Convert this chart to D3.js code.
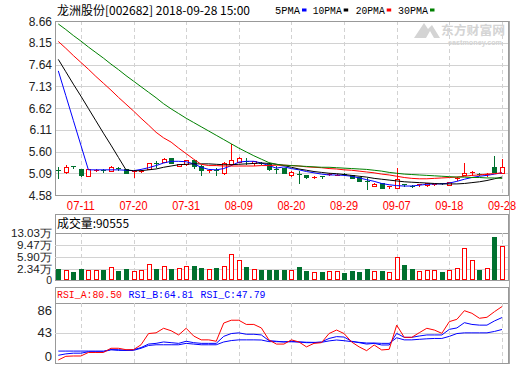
<!DOCTYPE html>
<html><head><meta charset="utf-8">
<script src="https://cdn.jsdelivr.net/npm/d3@7/dist/d3.min.js"></script>
<style>html,body{margin:0;padding:0;background:#fff;}svg{display:block;}</style>
</head><body>
<svg id="c" width="520" height="365"></svg>
<script>
const dates = ["07-06","07-09","07-10","07-11","07-12","07-13","07-16","07-17","07-18","07-19","07-20","07-23","07-24","07-25","07-26","07-27","07-30","07-31","08-01","08-02","08-03","08-06","08-07","08-08","08-09","08-10","08-13","08-14","08-15","08-16","08-17","08-20","08-21","08-22","08-23","08-24","08-27","08-28","08-29","08-30","08-31","09-03","09-04","09-05","09-06","09-07","09-10","09-11","09-12","09-13","09-14","09-17","09-18","09-19","09-20","09-21","09-25","09-26","09-27","09-28"];
const openP  = [5.17,5.12,5.25,5.19,5.02,5.16,5.17,5.14,5.21,5.19,5.12,5.14,5.19,5.32,5.36,5.44,5.25,5.30,5.40,5.27,5.15,5.16,5.09,5.30,5.36,5.38,5.33,5.34,5.31,5.18,5.21,5.06,5.08,5.06,5.00,5.02,5.06,5.05,5.08,5.06,5.00,4.91,4.79,4.85,4.77,4.75,4.83,4.80,4.82,4.81,4.82,4.86,4.82,4.96,5.06,5.10,5.08,5.06,5.23,5.10];
const closeP = [5.16,5.24,5.24,5.06,5.18,5.17,5.16,5.24,5.20,5.10,5.15,5.15,5.33,5.31,5.43,5.33,5.31,5.39,5.27,5.17,5.16,5.15,5.34,5.40,5.44,5.37,5.38,5.32,5.18,5.17,5.10,5.12,5.07,5.00,5.01,5.01,5.07,5.06,5.07,4.98,4.92,4.90,4.84,4.75,4.78,4.96,4.82,4.79,4.83,4.86,4.83,4.85,4.88,4.99,5.10,5.11,5.07,5.07,5.12,5.24];
const highP  = [5.23,5.28,5.27,5.20,5.18,5.18,5.20,5.25,5.23,5.19,5.15,5.17,5.34,5.37,5.45,5.44,5.31,5.40,5.41,5.28,5.20,5.22,5.36,5.78,5.48,5.45,5.38,5.36,5.31,5.25,5.21,5.14,5.15,5.06,5.03,5.03,5.09,5.08,5.09,5.06,5.00,4.98,4.85,4.86,4.80,5.22,4.84,4.82,4.84,4.87,4.84,4.87,4.89,5.01,5.32,5.15,5.09,5.10,5.49,5.43];
const lowP   = [4.98,5.10,5.21,5.02,5.02,5.15,5.13,5.14,5.17,5.09,5.00,5.12,5.18,5.24,5.35,5.33,5.25,5.29,5.22,5.06,5.11,5.06,5.08,5.29,5.35,5.31,5.29,5.30,5.17,5.10,5.09,5.03,4.87,4.99,4.98,4.99,5.04,5.04,5.05,4.98,4.91,4.72,4.78,4.74,4.75,4.74,4.80,4.76,4.80,4.80,4.81,4.83,4.82,4.94,5.06,5.06,5.05,5.03,5.12,5.10];
const ma5  = [7.49,6.91,6.33,5.75,5.17,5.17,5.17,5.17,5.17,5.16,5.15,5.18,5.22,5.27,5.33,5.37,5.37,5.36,5.31,5.23,5.18,5.17,5.20,5.27,5.35,5.37,5.37,5.33,5.27,5.21,5.24,5.20,5.17,5.13,5.10,5.07,5.05,5.05,5.04,5.02,4.98,4.94,4.90,4.85,4.82,4.80,4.79,4.79,4.81,4.83,4.84,4.84,4.86,4.90,4.95,4.99,5.02,5.04,5.07,5.10];
const ma10 = [7.76,7.47,7.18,6.90,6.61,6.32,6.03,5.75,5.46,5.17,5.15,5.15,5.17,5.19,5.23,5.26,5.29,5.30,5.31,5.31,5.31,5.30,5.29,5.29,5.30,5.31,5.32,5.33,5.32,5.30,5.27,5.23,5.19,5.16,5.13,5.11,5.09,5.08,5.06,5.04,5.02,5.00,4.97,4.95,4.93,4.91,4.89,4.88,4.87,4.86,4.85,4.84,4.84,4.84,4.85,4.87,4.89,4.92,4.96,5.00];
const ma20 = [8.18,8.02,7.85,7.69,7.53,7.36,7.20,7.04,6.87,6.71,6.55,6.38,6.22,6.05,5.92,5.82,5.68,5.55,5.42,5.30,5.27,5.27,5.26,5.26,5.26,5.26,5.26,5.27,5.27,5.28,5.28,5.27,5.26,5.24,5.23,5.22,5.20,5.19,5.17,5.16,5.14,5.12,5.10,5.07,5.05,5.02,4.99,4.97,4.96,4.96,4.97,4.98,4.99,5.00,5.02,5.04,5.05,5.07,5.08,5.10];
const ma30 = [8.59,8.46,8.32,8.19,8.05,7.92,7.79,7.65,7.52,7.38,7.25,7.12,6.99,6.86,6.72,6.60,6.49,6.38,6.28,6.18,6.08,5.98,5.88,5.78,5.68,5.59,5.50,5.42,5.34,5.30,5.28,5.27,5.26,5.25,5.24,5.23,5.23,5.22,5.21,5.20,5.19,5.18,5.16,5.14,5.11,5.09,5.07,5.06,5.05,5.04,5.03,5.02,5.01,5.00,5.00,4.99,4.99,4.98,4.98,4.97];
const volume = [2.42,2.13,1.55,2.42,2.13,2.13,2.13,2.92,1.84,2.42,1.84,2.13,3.80,2.42,3.21,2.42,2.63,3.21,3.39,2.72,2.34,2.72,3.30,6.80,5.05,3.01,2.42,2.13,2.13,2.13,2.13,2.13,3.01,1.84,1.55,1.55,1.84,1.84,1.26,1.84,1.55,2.42,1.84,1.84,1.55,5.84,3.59,2.42,1.84,2.13,2.13,1.55,2.13,2.63,8.47,5.05,2.13,2.63,11.77,9.0555];
const rsiA = [4.3,9.5,10,10,15,15,15,21,21,19,19,26,42,43,49.5,46,40,49.5,38.5,33,33,31,57,61,61,55,55,50,33,27,27,33,30,23,28,29,42,47,42,30,23,17.6,25.7,18.6,19.5,54,36.6,36.6,43.2,49.5,47,42.3,59,62.3,74.6,70.9,63.8,65.2,73.2,80.5];
const rsiB = [11,13,14,14,16,16,16,19,19,18,19,22,27,28,30,29,28,31,29,28,28,28,38,42,43,41,41,40,32,31,30,31,30,29,29,30,35,37.6,37,31,29,27,28,25.7,25.7,42.3,36.6,36.6,38.5,40,40,40,48,50,57.5,55,54,54,60,64.81];
const rsiC = [17,17,17,17,17,17,17,19,18,18,18,21,25,26,26,26,26,28,27,26,26,26,30,32,33,33,33,32.8,30.5,30.4,30.2,30.2,30,29.6,29.4,29.5,31.5,32.8,31.8,30.5,29.5,28.5,28.5,28,28,36,33,33,33.8,34.5,35,35,38,42,43,43,43,43,45,47.79];
const priceTicks = [8.66,8.15,7.64,7.13,6.62,6.11,5.60,5.09,4.58];
const priceLabels = ["8.66","8.15","7.64","7.13","6.62","6.11","5.60","5.09","4.58"];
const volTicks = [13.03,9.47,5.90,2.34,0];
const volLabels = ["13.03万","9.47万","5.90万","2.34万","0"];
const rsiTicks = [86,43,0];
const xTicks = ["07-11","07-20","07-31","08-09","08-20","08-29","09-07","09-18","09-28"];
const maNames = ["5PMA","10PMA","20PMA","30PMA"];
const maColors = ["#0000ff","#000000","#ff0000","#008000"];

const RED = "#ff0000", GREEN = "#00702e", GRID = "#d2d2d2", FRAME = "#999";
const svg = d3.select("#c");
const L = 55, R = 508;
const x = d3.scalePoint().domain(dates).range([58.3, 502]);
const yP = d3.scaleLinear().domain([4.58, 8.66]).range([195, 21]);
const yV = d3.scaleLinear().domain([-0.79, 13.03]).range([280, 232.7]);
const yR = d3.scaleLinear().domain([0, 86]).range([363, 302.7]);
const px = v => Math.round(v) + 0.5;

// ---------- header ----------
svg.append("text").attr("x", 57).attr("y", 14.5).attr("font-family", "Noto Sans CJK SC, sans-serif")
  .attr("font-size", 12).attr("fill", "#000").attr("textLength", 193).attr("lengthAdjust", "spacingAndGlyphs")
  .text("龙洲股份[002682] 2018-09-28 15:00");
const legX = [275, 312.7, 355.7, 398];
const legW = [25, 29, 29, 30];
maNames.forEach((n, i) => {
  svg.append("text").attr("x", legX[i]).attr("y", 13.5).attr("font-family", "Liberation Mono, monospace")
    .attr("font-size", 11).attr("fill", "#000").attr("textLength", legW[i]).attr("lengthAdjust", "spacingAndGlyphs").text(n);
  svg.append("rect").attr("x", legX[i] + legW[i] + 2).attr("y", 8.5).attr("width", 4.5).attr("height", 3).attr("fill", maColors[i]);
});

// ---------- frames & grids ----------
function frame(y0, y1) {
  svg.append("rect").attr("x", L + 0.5).attr("y", y0 + 0.5).attr("width", R - L).attr("height", y1 - y0)
    .attr("fill", "none").attr("stroke", FRAME);
}
function vgrid(y0, y1) {
  xTicks.forEach(t => {
    svg.append("line").attr("x1", px(x(t))).attr("x2", px(x(t))).attr("y1", y0).attr("y2", y1)
      .attr("stroke", GRID).attr("stroke-dasharray", "4,3");
  });
}
// main
priceTicks.forEach(v => svg.append("line").attr("x1", L).attr("x2", R).attr("y1", px(yP(v))).attr("y2", px(yP(v))).attr("stroke", GRID));
vgrid(21, 195);
frame(21, 195);
// volume
frame(214, 280);
volTicks.slice(1, 4).forEach(v => svg.append("line").attr("x1", L).attr("x2", R).attr("y1", px(yV(v))).attr("y2", px(yV(v))).attr("stroke", GRID));
svg.append("line").attr("x1", L).attr("x2", R).attr("y1", px(yV(13.03))).attr("y2", px(yV(13.03))).attr("stroke", FRAME);
vgrid(233, 280);
// rsi
frame(287, 363);
svg.append("line").attr("x1", L).attr("x2", R).attr("y1", px(yR(86))).attr("y2", px(yR(86))).attr("stroke", FRAME);
svg.append("line").attr("x1", L).attr("x2", R).attr("y1", px(yR(43))).attr("y2", px(yR(43))).attr("stroke", GRID);
vgrid(303, 363);
// darker right edge
svg.append("line").attr("x1", R + 1.5).attr("x2", R + 1.5).attr("y1", 21).attr("y2", 364).attr("stroke", "#aaa");

// ---------- watermark ----------
const wm = svg.append("g").attr("fill", "#d4d4d4");
wm.append("path").attr("d", "M414,38 L424,23 L428,29 L432,25 L440,38 L434,38 L430,31 L426,38 Z");
wm.append("text").attr("x", 441).attr("y", 35).attr("font-family", "Noto Sans CJK SC, sans-serif").attr("font-size", 12)
  .attr("font-weight", "bold").attr("textLength", 64).attr("lengthAdjust", "spacingAndGlyphs").text("东方财富网");
wm.append("text").attr("x", 448).attr("y", 45).attr("font-family", "Liberation Sans, sans-serif").attr("font-size", 7)
  .attr("font-weight", "bold").attr("textLength", 54).attr("lengthAdjust", "spacingAndGlyphs").text("eastmoney.com");

// ---------- axis labels ----------
const lab = svg.append("g").attr("font-family", "Liberation Sans, Arial, sans-serif").attr("font-size", 12).attr("fill", "#222");
priceTicks.forEach((v, i) => lab.append("text").attr("x", 52).attr("y", yP(v) + 4.5).attr("text-anchor", "end").text(priceLabels[i]));
volTicks.forEach((v, i) => {
  const yy = v === 0 ? 280 : yV(v);
  lab.append("text").attr("x", 52).attr("y", yy + 4).attr("text-anchor", "end").attr("font-size", 10.5)
    .attr("textLength", v === 0 ? null : (volLabels[i].length === 6 ? 41 : 35)).attr("lengthAdjust", "spacingAndGlyphs").text(volLabels[i]);
});
rsiTicks.forEach(v => {
  const yy = v === 86 ? yR(v) + 7.5 : (v === 0 ? yR(v) - 7 : yR(v));
  lab.append("text").attr("x", 52).attr("y", yy + 4.5).attr("text-anchor", "end").attr("font-size", 13).text(v);
});
xTicks.forEach(t => svg.append("text").attr("x", x(t)).attr("y", 210).attr("text-anchor", "middle")
  .attr("font-family", "Liberation Sans, Arial, sans-serif").attr("font-size", 12).attr("fill", RED)
  .attr("textLength", 28).attr("lengthAdjust", "spacingAndGlyphs").text(t));

// ---------- candles ----------
const cg = svg.append("g");
dates.forEach((d, i) => {
  const o = openP[i], c = closeP[i], h = highP[i], l = lowP[i];
  const up = c >= o;
  const col = up ? RED : GREEN;
  const cx = Math.round(x(d));
  const top = Math.round(yP(Math.max(o, c))), bot = Math.round(yP(Math.min(o, c)));
  const yh = Math.round(yP(h)), yl = Math.round(yP(l));
  if (bot - top < 2) {
    cg.append("line").attr("x1", cx + 0.5).attr("x2", cx + 0.5).attr("y1", yh).attr("y2", yl + 1).attr("stroke", col);
    cg.append("line").attr("x1", cx - 2).attr("x2", cx + 3).attr("y1", top + 0.5).attr("y2", top + 0.5).attr("stroke", col);
  } else if (up) {
    if (yh < top) cg.append("line").attr("x1", cx + 0.5).attr("x2", cx + 0.5).attr("y1", yh).attr("y2", top).attr("stroke", col);
    if (yl > bot) cg.append("line").attr("x1", cx + 0.5).attr("x2", cx + 0.5).attr("y1", bot).attr("y2", yl + 1).attr("stroke", col);
    cg.append("rect").attr("x", cx - 1.5).attr("y", top + 0.5).attr("width", 4).attr("height", bot - top)
      .attr("fill", "#fff").attr("stroke", col);
  } else {
    cg.append("line").attr("x1", cx + 0.5).attr("x2", cx + 0.5).attr("y1", yh).attr("y2", yl + 1).attr("stroke", col);
    cg.append("rect").attr("x", cx - 2).attr("y", top).attr("width", 5).attr("height", bot - top + 1).attr("fill", col);
  }
});

// ---------- moving averages ----------
svg.append("clipPath").attr("id", "mainclip").append("rect").attr("x", L + 1).attr("y", 22).attr("width", R - L - 1).attr("height", 172);
const mline = d3.line().x((v, i) => x(dates[i])).y(v => yP(v));
[ma5, ma10, ma20, ma30].forEach((arr, k) => {
  svg.append("path").attr("d", mline(arr)).attr("fill", "none").attr("stroke", maColors[k]).attr("stroke-width", 1)
    .attr("clip-path", "url(#mainclip)");
});

// ---------- volume ----------
svg.append("text").attr("x", 57).attr("y", 228).attr("font-family", "Noto Sans CJK SC, sans-serif").attr("font-size", 12)
  .attr("fill", "#000").attr("textLength", 72).attr("lengthAdjust", "spacingAndGlyphs").text("成交量:90555");
dates.forEach((d, i) => {
  const up = closeP[i] >= openP[i];
  const cx = Math.round(x(d));
  const t = Math.round(yV(volume[i]));
  const b = Math.round(yV(-0.79));
  if (up) {
    svg.append("rect").attr("x", cx - 1.5).attr("y", t + 0.5).attr("width", 4).attr("height", b - t - 1)
      .attr("fill", "#fff").attr("stroke", RED);
  } else {
    svg.append("rect").attr("x", cx - 2).attr("y", t).attr("width", 5).attr("height", b - t).attr("fill", GREEN);
  }
});

// ---------- RSI ----------
const rt = svg.append("g").attr("font-family", "Liberation Mono, monospace").attr("font-size", 11);
rt.append("text").attr("x", 57).attr("y", 298).attr("fill", RED).attr("textLength", 65).attr("lengthAdjust", "spacingAndGlyphs").text("RSI_A:80.50");
rt.append("text").attr("x", 128.5).attr("y", 298).attr("fill", "#0000ff").attr("textLength", 65).attr("lengthAdjust", "spacingAndGlyphs").text("RSI_B:64.81");
rt.append("text").attr("x", 200.5).attr("y", 298).attr("fill", "#0000ff").attr("textLength", 65).attr("lengthAdjust", "spacingAndGlyphs").text("RSI_C:47.79");
const rline = d3.line().x((v, i) => x(dates[i])).y(v => yR(v));
[[rsiC, "#0000ff"], [rsiB, "#0000ff"], [rsiA, RED]].forEach(([arr, col]) => {
  svg.append("path").attr("d", rline(arr)).attr("fill", "none").attr("stroke", col).attr("stroke-width", 1);
});
</script>
</body></html>
